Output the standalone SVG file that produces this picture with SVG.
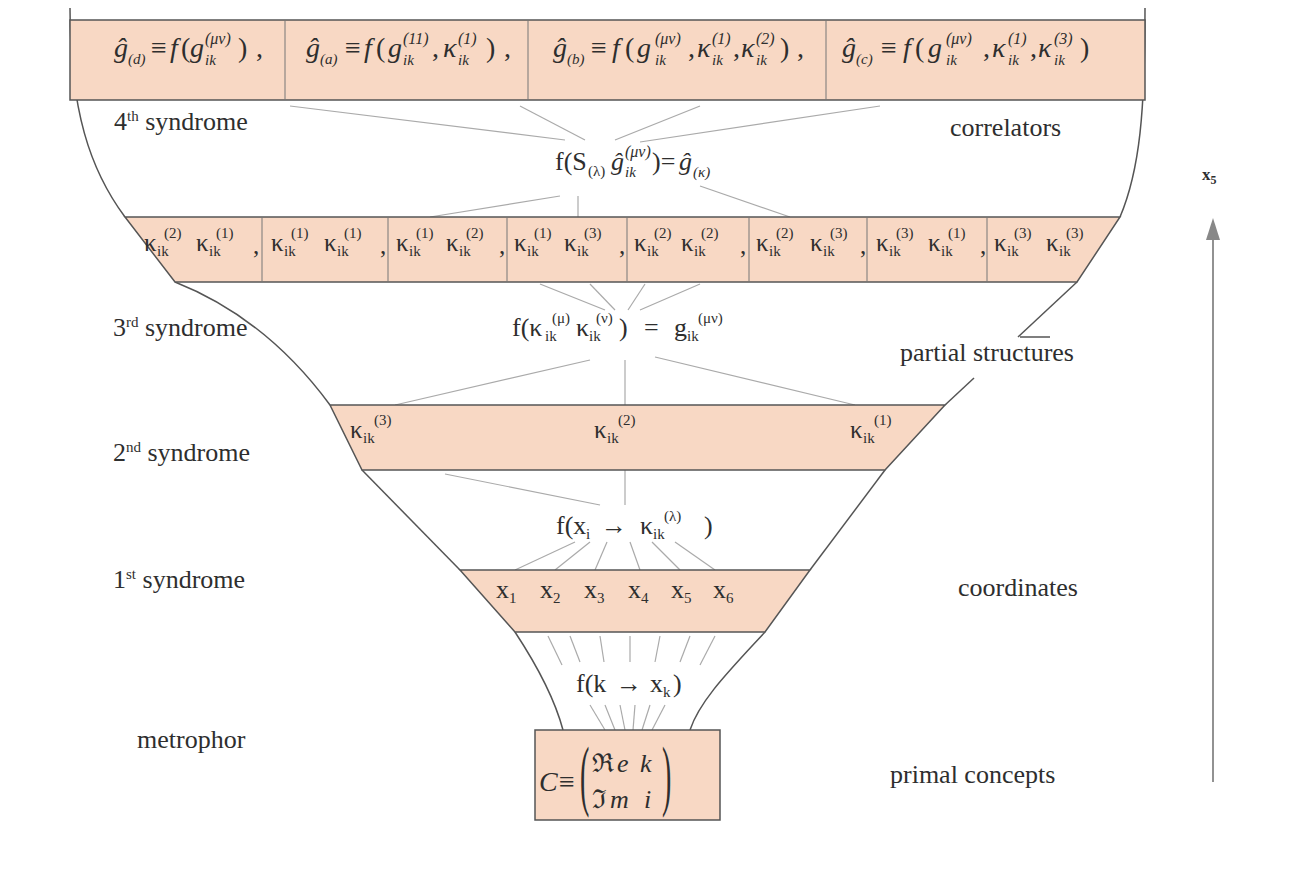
<svg xmlns="http://www.w3.org/2000/svg" width="1291" height="870" viewBox="0 0 1291 870">
<defs>
<style>
text{font-family:"Liberation Serif","DejaVu Serif",serif;fill:#2e2e2e}
.lb{font-size:26px}
.fm{font-size:28px}
.kp{font-size:25px}
.it{font-style:italic}
.sup{font-size:16px}
.sub{font-size:15px}
.ks{font-size:15px}
.band{fill:#f8d8c4;stroke:#555;stroke-width:1.5}
.outline{fill:none;stroke:#555;stroke-width:1.5}
.div{stroke:#777;stroke-width:1}
.con line{stroke:#aaa;stroke-width:1.2}
</style>
</defs>
<rect width="1291" height="870" fill="#fff"/>

<!-- funnel outline -->
<g id="funnel">
<path class="outline" d="M70,8 C70,110 90,170 125,217"/>
<path class="outline" d="M175,282 Q266,318 330,405"/>
<path class="outline" d="M362,470 L460,570"/>
<path class="outline" d="M515,632 C540,670 555,700 563,730"/>
<path class="outline" d="M1145,8 C1145,110 1140,170 1120,217"/>
<path class="outline" d="M1077,282 L1018,337"/>
<line class="outline" x1="1020" y1="337" x2="1050" y2="337" stroke-width="1"/>
<path class="outline" d="M974,378 L945,405"/>
<path class="outline" d="M885,470 L810,570"/>
<path class="outline" d="M765,632 C730,670 700,700 690,730"/>
</g>

<!-- connectors -->
<g id="connectors" class="con">
<line x1="565" y1="140" x2="290" y2="106"/>
<line x1="585" y1="140" x2="520" y2="106"/>
<line x1="615" y1="140" x2="700" y2="106"/>
<line x1="640" y1="142" x2="880" y2="106"/>
<line x1="560" y1="196" x2="430" y2="217"/>
<line x1="578" y1="196" x2="578" y2="217"/>
<line x1="700" y1="186" x2="790" y2="217"/>
<line x1="605" y1="310" x2="540" y2="284"/>
<line x1="615" y1="310" x2="590" y2="284"/>
<line x1="628" y1="310" x2="645" y2="284"/>
<line x1="640" y1="310" x2="700" y2="284"/>
<line x1="590" y1="360" x2="395" y2="405"/>
<line x1="625" y1="360" x2="625" y2="405"/>
<line x1="655" y1="357" x2="855" y2="405"/>
<line x1="445" y1="474" x2="600" y2="505"/>
<line x1="625" y1="470" x2="625" y2="505"/>
<line x1="575" y1="542" x2="515" y2="570"/>
<line x1="590" y1="542" x2="555" y2="570"/>
<line x1="607" y1="542" x2="595" y2="570"/>
<line x1="630" y1="542" x2="640" y2="570"/>
<line x1="652" y1="542" x2="680" y2="570"/>
<line x1="675" y1="542" x2="715" y2="570"/>
<line x1="548" y1="636" x2="562" y2="665"/>
<line x1="570" y1="636" x2="580" y2="662"/>
<line x1="600" y1="636" x2="604" y2="662"/>
<line x1="630" y1="636" x2="630" y2="662"/>
<line x1="660" y1="636" x2="655" y2="662"/>
<line x1="690" y1="636" x2="680" y2="662"/>
<line x1="715" y1="636" x2="700" y2="665"/>
<line x1="590" y1="705" x2="605" y2="730"/>
<line x1="605" y1="705" x2="615" y2="730"/>
<line x1="620" y1="705" x2="625" y2="730"/>
<line x1="635" y1="705" x2="633" y2="730"/>
<line x1="650" y1="705" x2="642" y2="730"/>
<line x1="665" y1="705" x2="652" y2="730"/>
</g>

<!-- top band: correlators -->
<g id="band4">
<rect class="band" x="70" y="20" width="1075" height="80"/>
<line class="div" x1="285" y1="20" x2="285" y2="100"/>
<line class="div" x1="528" y1="20" x2="528" y2="100"/>
<line class="div" x1="826" y1="20" x2="826" y2="100"/>
<text class="fm"><tspan class="it" x="114" y="57">ĝ</tspan><tspan class="sub it" x="128" y="64">(d)</tspan><tspan x="151" y="57">≡</tspan><tspan class="it" x="170" y="57">f</tspan><tspan x="181" y="57">(</tspan><tspan class="it" x="190" y="57">g</tspan><tspan class="sup it" x="205" y="44">(μν)</tspan><tspan class="sub it" x="205" y="65">ik</tspan><tspan x="238" y="57">)</tspan><tspan x="256" y="57">,</tspan></text>
<text class="fm"><tspan class="it" x="306" y="57">ĝ</tspan><tspan class="sub it" x="320" y="64">(a)</tspan><tspan x="345" y="57">≡</tspan><tspan class="it" x="364" y="57">f</tspan><tspan x="376" y="57">(</tspan><tspan class="it" x="388" y="57">g</tspan><tspan class="sup it" x="403" y="44">(11)</tspan><tspan class="sub it" x="403" y="65">ik</tspan><tspan x="432" y="57">,</tspan><tspan class="it" x="443" y="57">κ</tspan><tspan class="sup it" x="458" y="44">(1)</tspan><tspan class="sub it" x="458" y="65">ik</tspan><tspan x="486" y="57">)</tspan><tspan x="504" y="57">,</tspan></text>
<text class="fm"><tspan class="it" x="553" y="57">ĝ</tspan><tspan class="sub it" x="567" y="64">(b)</tspan><tspan x="591" y="57">≡</tspan><tspan class="it" x="612" y="57">f</tspan><tspan x="625" y="57">(</tspan><tspan class="it" x="637" y="57">g</tspan><tspan class="sup it" x="655" y="44">(μν)</tspan><tspan class="sub it" x="655" y="65">ik</tspan><tspan x="688" y="57">,</tspan><tspan class="it" x="697" y="57">κ</tspan><tspan class="sup it" x="712" y="44">(1)</tspan><tspan class="sub it" x="712" y="65">ik</tspan><tspan x="733" y="57">,</tspan><tspan class="it" x="741" y="57">κ</tspan><tspan class="sup it" x="756" y="44">(2)</tspan><tspan class="sub it" x="756" y="65">ik</tspan><tspan x="780" y="57">)</tspan><tspan x="797" y="57">,</tspan></text>
<text class="fm"><tspan class="it" x="842" y="57">ĝ</tspan><tspan class="sub it" x="856" y="64">(c)</tspan><tspan x="881" y="57">≡</tspan><tspan class="it" x="903" y="57">f</tspan><tspan x="915" y="57">(</tspan><tspan class="it" x="928" y="57">g</tspan><tspan class="sup it" x="946" y="44">(μν)</tspan><tspan class="sub it" x="946" y="65">ik</tspan><tspan x="983" y="57">,</tspan><tspan class="it" x="992" y="57">κ</tspan><tspan class="sup it" x="1008" y="44">(1)</tspan><tspan class="sub it" x="1008" y="65">ik</tspan><tspan x="1030" y="57">,</tspan><tspan class="it" x="1038" y="57">κ</tspan><tspan class="sup it" x="1054" y="44">(3)</tspan><tspan class="sub it" x="1054" y="65">ik</tspan><tspan x="1080" y="57">)</tspan></text>
</g>

<!-- level 4 function -->
<g id="f4">
<text class="lb"><tspan x="555" y="170">f(S</tspan><tspan class="sub" x="588" y="176">(λ)</tspan><tspan class="it" x="611" y="170">ĝ</tspan><tspan class="sup it" x="625" y="157">(μν)</tspan><tspan class="sub it" x="625" y="177">ik</tspan><tspan x="652" y="170">)=</tspan><tspan class="it" x="679" y="170">ĝ</tspan><tspan class="sub it" x="693" y="177">(κ)</tspan></text>
</g>

<!-- kappa band -->
<g id="band3">
<polygon class="band" points="125,217 1120,217 1077,282 175,282"/>
<line class="div" x1="262" y1="217" x2="262" y2="282"/>
<line class="div" x1="388" y1="217" x2="388" y2="282"/>
<line class="div" x1="507" y1="217" x2="507" y2="282"/>
<line class="div" x1="627" y1="217" x2="627" y2="282"/>
<line class="div" x1="749" y1="217" x2="749" y2="282"/>
<line class="div" x1="867" y1="217" x2="867" y2="282"/>
<line class="div" x1="987" y1="217" x2="987" y2="282"/>
<text class="kp"><tspan x="144" y="251">κ</tspan><tspan class="ks" x="157" y="256">ik</tspan><tspan class="ks" x="164" y="238">(2)</tspan><tspan x="196" y="251">κ</tspan><tspan class="ks" x="209" y="256">ik</tspan><tspan class="ks" x="216" y="238">(1)</tspan><tspan x="253" y="254">,</tspan></text>
<text class="kp"><tspan x="271" y="251">κ</tspan><tspan class="ks" x="284" y="256">ik</tspan><tspan class="ks" x="291" y="238">(1)</tspan><tspan x="324" y="251">κ</tspan><tspan class="ks" x="337" y="256">ik</tspan><tspan class="ks" x="344" y="238">(1)</tspan><tspan x="380" y="254">,</tspan></text>
<text class="kp"><tspan x="396" y="251">κ</tspan><tspan class="ks" x="409" y="256">ik</tspan><tspan class="ks" x="416" y="238">(1)</tspan><tspan x="446" y="251">κ</tspan><tspan class="ks" x="459" y="256">ik</tspan><tspan class="ks" x="466" y="238">(2)</tspan><tspan x="499" y="254">,</tspan></text>
<text class="kp"><tspan x="514" y="251">κ</tspan><tspan class="ks" x="527" y="256">ik</tspan><tspan class="ks" x="534" y="238">(1)</tspan><tspan x="564" y="251">κ</tspan><tspan class="ks" x="577" y="256">ik</tspan><tspan class="ks" x="584" y="238">(3)</tspan><tspan x="619" y="254">,</tspan></text>
<text class="kp"><tspan x="634" y="251">κ</tspan><tspan class="ks" x="647" y="256">ik</tspan><tspan class="ks" x="654" y="238">(2)</tspan><tspan x="681" y="251">κ</tspan><tspan class="ks" x="694" y="256">ik</tspan><tspan class="ks" x="701" y="238">(2)</tspan><tspan x="740" y="254">,</tspan></text>
<text class="kp"><tspan x="756" y="251">κ</tspan><tspan class="ks" x="769" y="256">ik</tspan><tspan class="ks" x="776" y="238">(2)</tspan><tspan x="810" y="251">κ</tspan><tspan class="ks" x="823" y="256">ik</tspan><tspan class="ks" x="830" y="238">(3)</tspan><tspan x="860" y="254">,</tspan></text>
<text class="kp"><tspan x="876" y="251">κ</tspan><tspan class="ks" x="889" y="256">ik</tspan><tspan class="ks" x="896" y="238">(3)</tspan><tspan x="928" y="251">κ</tspan><tspan class="ks" x="941" y="256">ik</tspan><tspan class="ks" x="948" y="238">(1)</tspan><tspan x="980" y="254">,</tspan></text>
<text class="kp"><tspan x="994" y="251">κ</tspan><tspan class="ks" x="1007" y="256">ik</tspan><tspan class="ks" x="1014" y="238">(3)</tspan><tspan x="1046" y="251">κ</tspan><tspan class="ks" x="1059" y="256">ik</tspan><tspan class="ks" x="1066" y="238">(3)</tspan></text>
</g>

<!-- level 3 function -->
<g id="f3">
<text class="lb"><tspan x="512" y="336">f(κ</tspan><tspan class="ks" x="545" y="341">ik</tspan><tspan class="ks" x="552" y="323">(μ)</tspan><tspan x="576" y="336">κ</tspan><tspan class="ks" x="589" y="341">ik</tspan><tspan class="ks" x="596" y="323">(ν)</tspan><tspan x="619" y="336">)</tspan><tspan x="644" y="336">=</tspan><tspan x="674" y="336">g</tspan><tspan class="ks" x="687" y="341">ik</tspan><tspan class="ks" x="698" y="323">(μν)</tspan></text>
</g>

<!-- band 2 -->
<g id="band2">
<polygon class="band" points="330,405 945,405 885,470 362,470"/>
<text class="kp"><tspan x="350" y="438">κ</tspan><tspan class="ks" x="363" y="443">ik</tspan><tspan class="ks" x="374" y="425">(3)</tspan></text>
<text class="kp"><tspan x="594" y="438">κ</tspan><tspan class="ks" x="607" y="443">ik</tspan><tspan class="ks" x="618" y="425">(2)</tspan></text>
<text class="kp"><tspan x="850" y="438">κ</tspan><tspan class="ks" x="863" y="443">ik</tspan><tspan class="ks" x="874" y="425">(1)</tspan></text>
</g>

<!-- level 2 function -->
<g id="f2">
<text class="lb"><tspan x="556" y="534">f(x</tspan><tspan class="sub" x="586" y="539">i</tspan><tspan x="601" y="534">→</tspan><tspan x="640" y="534">κ</tspan><tspan class="ks" x="653" y="539">ik</tspan><tspan class="ks" x="664" y="521">(λ)</tspan><tspan x="704" y="534">)</tspan></text>
</g>

<!-- x band -->
<g id="band1">
<polygon class="band" points="460,570 810,570 765,632 515,632"/>
<text class="lb"><tspan x="496" y="598">x</tspan><tspan class="sub" x="509" y="603">1</tspan><tspan x="540" y="598">x</tspan><tspan class="sub" x="553" y="603">2</tspan><tspan x="584" y="598">x</tspan><tspan class="sub" x="597" y="603">3</tspan><tspan x="628" y="598">x</tspan><tspan class="sub" x="641" y="603">4</tspan><tspan x="671" y="598">x</tspan><tspan class="sub" x="684" y="603">5</tspan><tspan x="713" y="598">x</tspan><tspan class="sub" x="726" y="603">6</tspan></text>
</g>

<!-- level 1 function -->
<g id="f1">
<text class="lb"><tspan x="576" y="692">f(k</tspan><tspan x="616" y="692">→</tspan><tspan x="650" y="692">x</tspan><tspan class="sub" x="663" y="697">k</tspan><tspan x="673" y="692">)</tspan></text>
</g>

<!-- primal concepts box -->
<g id="primal">
<rect class="band" x="535" y="730" width="185" height="90"/>
<text class="fm"><tspan class="it" x="539" y="791">C</tspan><tspan x="559" y="791">≡</tspan></text>
<text font-size="40" transform="translate(580,801) scale(0.7,1.95)">(</text>
<text font-size="40" transform="translate(662,801) scale(0.7,1.95)">)</text>
<text class="lb"><tspan x="592" y="772">ℜ</tspan><tspan class="it" x="617" y="772">e</tspan><tspan class="it" x="640" y="772">k</tspan></text>
<text class="lb"><tspan x="592" y="808">ℑ</tspan><tspan class="it" x="610" y="808">m</tspan><tspan class="it" x="644" y="808">i</tspan></text>
</g>

<!-- side labels -->
<g id="labels">
<text class="lb" x="114" y="130">4<tspan class="sub" dy="-9">th</tspan><tspan dy="9"> syndrome</tspan></text>
<text class="lb" x="113" y="336">3<tspan class="sub" dy="-9">rd</tspan><tspan dy="9"> syndrome</tspan></text>
<text class="lb" x="113" y="461">2<tspan class="sub" dy="-9">nd</tspan><tspan dy="9"> syndrome</tspan></text>
<text class="lb" x="113" y="588">1<tspan class="sub" dy="-9">st</tspan><tspan dy="9"> syndrome</tspan></text>
<text class="lb" x="137" y="748">metrophor</text>
<text class="lb" x="950" y="136">correlators</text>
<text class="lb" x="900" y="361">partial structures</text>
<text class="lb" x="958" y="596">coordinates</text>
<text class="lb" x="890" y="783">primal concepts</text>
</g>

<!-- x5 axis -->
<g id="axis">
<text x="1202" y="180" font-size="17" font-weight="bold">x<tspan font-size="12" dy="4">5</tspan></text>
<line x1="1213" y1="782" x2="1213" y2="236" stroke="#777" stroke-width="1.6"/>
<polygon points="1206,240 1213,218 1220,240" fill="#888"/>
</g>
</svg>
